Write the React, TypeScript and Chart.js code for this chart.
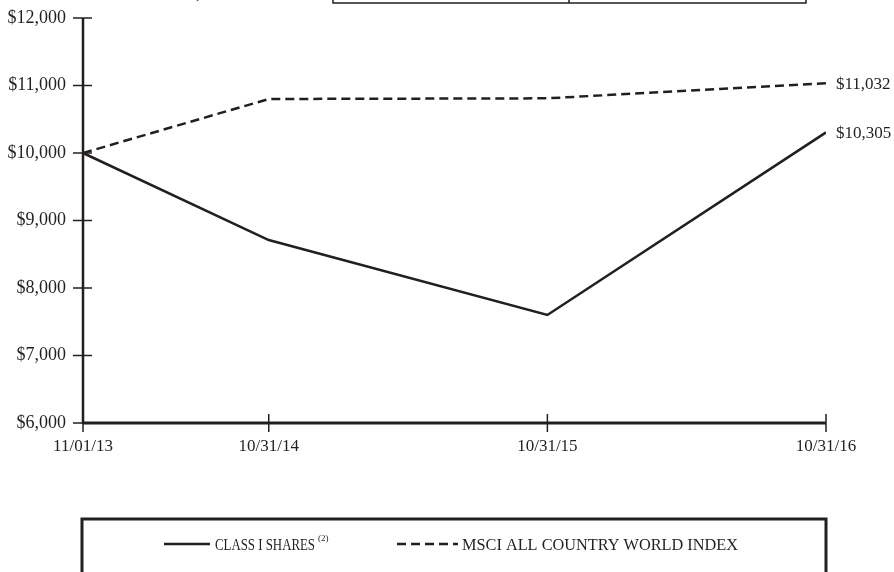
import React, { useEffect, useRef } from "react";
import { Chart, registerables } from "chart.js";

Chart.register(...registerables);

const xLabels = ["11/01/13", "10/31/14", "10/31/15", "10/31/16"];
const xPositions = [0, 2, 5, 8];
const classIShares = [10000, 8710, 7600, 10305];
const msciAcwi = [10000, 10800, 10810, 11032];
const endLabels = ["$10,305", "$11,032"];
const seriesNames = ["CLASS I SHARES", "MSCI ALL COUNTRY WORLD INDEX"];

const INK = "#231f20";
const FONT = "'Liberation Serif', 'DejaVu Serif', serif";

function fitText(ctx: CanvasRenderingContext2D, text: string, x: number, y: number, w: number) {
  const m = ctx.measureText(text).width;
  ctx.save();
  ctx.translate(x, y);
  ctx.scale(w / m, 1);
  ctx.fillText(text, 0, 0);
  ctx.restore();
}

const decorPlugin = {
  id: "decor",
  beforeDatasetsDraw(chart: any) {
    const ctx = chart.ctx as CanvasRenderingContext2D;
    const x = chart.scales.x;
    const y = chart.scales.y;
    const area = chart.chartArea;
    ctx.save();
    ctx.strokeStyle = INK;
    ctx.lineWidth = 2.5;
    ctx.beginPath();
    ctx.moveTo(area.left, area.top);
    ctx.lineTo(area.left, area.bottom + 1);
    ctx.stroke();
    ctx.lineWidth = 1.5;
    for (const t of y.ticks) {
      const py = y.getPixelForValue(t.value);
      ctx.beginPath();
      ctx.moveTo(area.left - 10, py);
      ctx.lineTo(area.left + 9, py);
      ctx.stroke();
    }
    for (const v of xPositions) {
      const px = x.getPixelForValue(v);
      ctx.beginPath();
      ctx.moveTo(px, area.bottom - 9);
      ctx.lineTo(px, area.bottom + 9);
      ctx.stroke();
    }
    ctx.lineWidth = 3;
    ctx.beginPath();
    ctx.moveTo(area.left, area.bottom);
    ctx.lineTo(area.right, area.bottom);
    ctx.stroke();
    ctx.restore();
  },
  afterDraw(chart: any) {
    const ctx = chart.ctx as CanvasRenderingContext2D;
    ctx.save();
    ctx.fillStyle = INK;
    ctx.strokeStyle = INK;
    ctx.font = `17px ${FONT}`;
    ctx.textBaseline = "middle";
    ctx.textAlign = "left";
    chart.data.datasets.forEach((_ds: any, i: number) => {
      const meta = chart.getDatasetMeta(i);
      const pt = meta.data[meta.data.length - 1];
      ctx.fillText(endLabels[i], pt.x + 10, pt.y + 1);
    });

    // remnant of a cropped table at the top edge
    ctx.lineWidth = 1.5;
    ctx.beginPath();
    ctx.moveTo(333, 0);
    ctx.lineTo(333, 3);
    ctx.lineTo(806, 3);
    ctx.lineTo(806, 0);
    ctx.moveTo(569, 0);
    ctx.lineTo(569, 3);
    ctx.stroke();
    ctx.textBaseline = "alphabetic";
    ctx.fillText(",", 196, -1);

    // legend box
    ctx.lineWidth = 3;
    ctx.strokeRect(82, 519, 744, 100);
    ctx.lineWidth = 2.5;
    ctx.beginPath();
    ctx.moveTo(164, 544);
    ctx.lineTo(210, 544);
    ctx.stroke();
    ctx.setLineDash([9, 5]);
    ctx.beginPath();
    ctx.moveTo(397, 544);
    ctx.lineTo(458, 544);
    ctx.stroke();
    ctx.setLineDash([]);
    ctx.font = `16px ${FONT}`;
    fitText(ctx, seriesNames[0], 215, 550, 100);
    fitText(ctx, seriesNames[1], 462, 550, 276);
    ctx.font = `9px ${FONT}`;
    ctx.fillText("(2)", 318, 541);
    ctx.restore();
  },
};

export default function App() {
  const ref = useRef<HTMLCanvasElement>(null);
  useEffect(() => {
    if (!ref.current) return;
    const chart = new Chart(ref.current, {
      type: "line",
      data: {
        datasets: [
          {
            label: seriesNames[0],
            data: xPositions.map((v, i) => ({ x: v, y: classIShares[i] })),
            borderColor: INK,
            borderWidth: 2.5,
            pointRadius: 0,
            tension: 0,
            fill: false,
          },
          {
            label: seriesNames[1],
            data: xPositions.map((v, i) => ({ x: v, y: msciAcwi[i] })),
            borderColor: INK,
            borderWidth: 2.5,
            borderDash: [9, 5],
            pointRadius: 0,
            tension: 0,
            fill: false,
          },
        ],
      },
      options: {
        responsive: false,
        animation: false,
        maintainAspectRatio: false,
        layout: { padding: { top: 18, right: 68, left: 0, bottom: 0 } },
        plugins: { legend: { display: false }, tooltip: { enabled: false } },
        scales: {
          x: {
            type: "linear",
            min: xPositions[0],
            max: xPositions[xPositions.length - 1],
            grid: { display: false, drawTicks: false },
            border: { display: false },
            afterBuildTicks: (scale: any) => {
              scale.ticks = xPositions.map((v) => ({ value: v }));
            },
            afterFit: (scale: any) => {
              scale.height = 149;
              scale.paddingLeft = 0;
              scale.paddingRight = 0;
            },
            ticks: {
              autoSkip: false,
              maxRotation: 0,
              padding: 13,
              color: INK,
              font: { family: FONT, size: 17 },
              callback: (_v: any, i: number) => xLabels[i],
            },
          },
          y: {
            min: 6000,
            max: 12000,
            grid: { display: false, drawTicks: false },
            border: { display: false },
            afterFit: (scale: any) => {
              scale.width = 83;
              scale.paddingTop = 0;
              scale.paddingBottom = 0;
            },
            ticks: {
              stepSize: 1000,
              padding: 17,
              color: INK,
              font: { family: FONT, size: 18 },
              callback: (v: any) => "$" + Number(v).toLocaleString("en-US"),
            },
          },
        },
      },
      plugins: [decorPlugin],
    });
    return () => chart.destroy();
  }, []);
  return (
    <div style={{ position: "absolute", left: 0, top: 0, width: 894, height: 572, background: "#fff" }}>
      <canvas ref={ref} width={894} height={572} style={{ display: "block" }} />
    </div>
  );
}
